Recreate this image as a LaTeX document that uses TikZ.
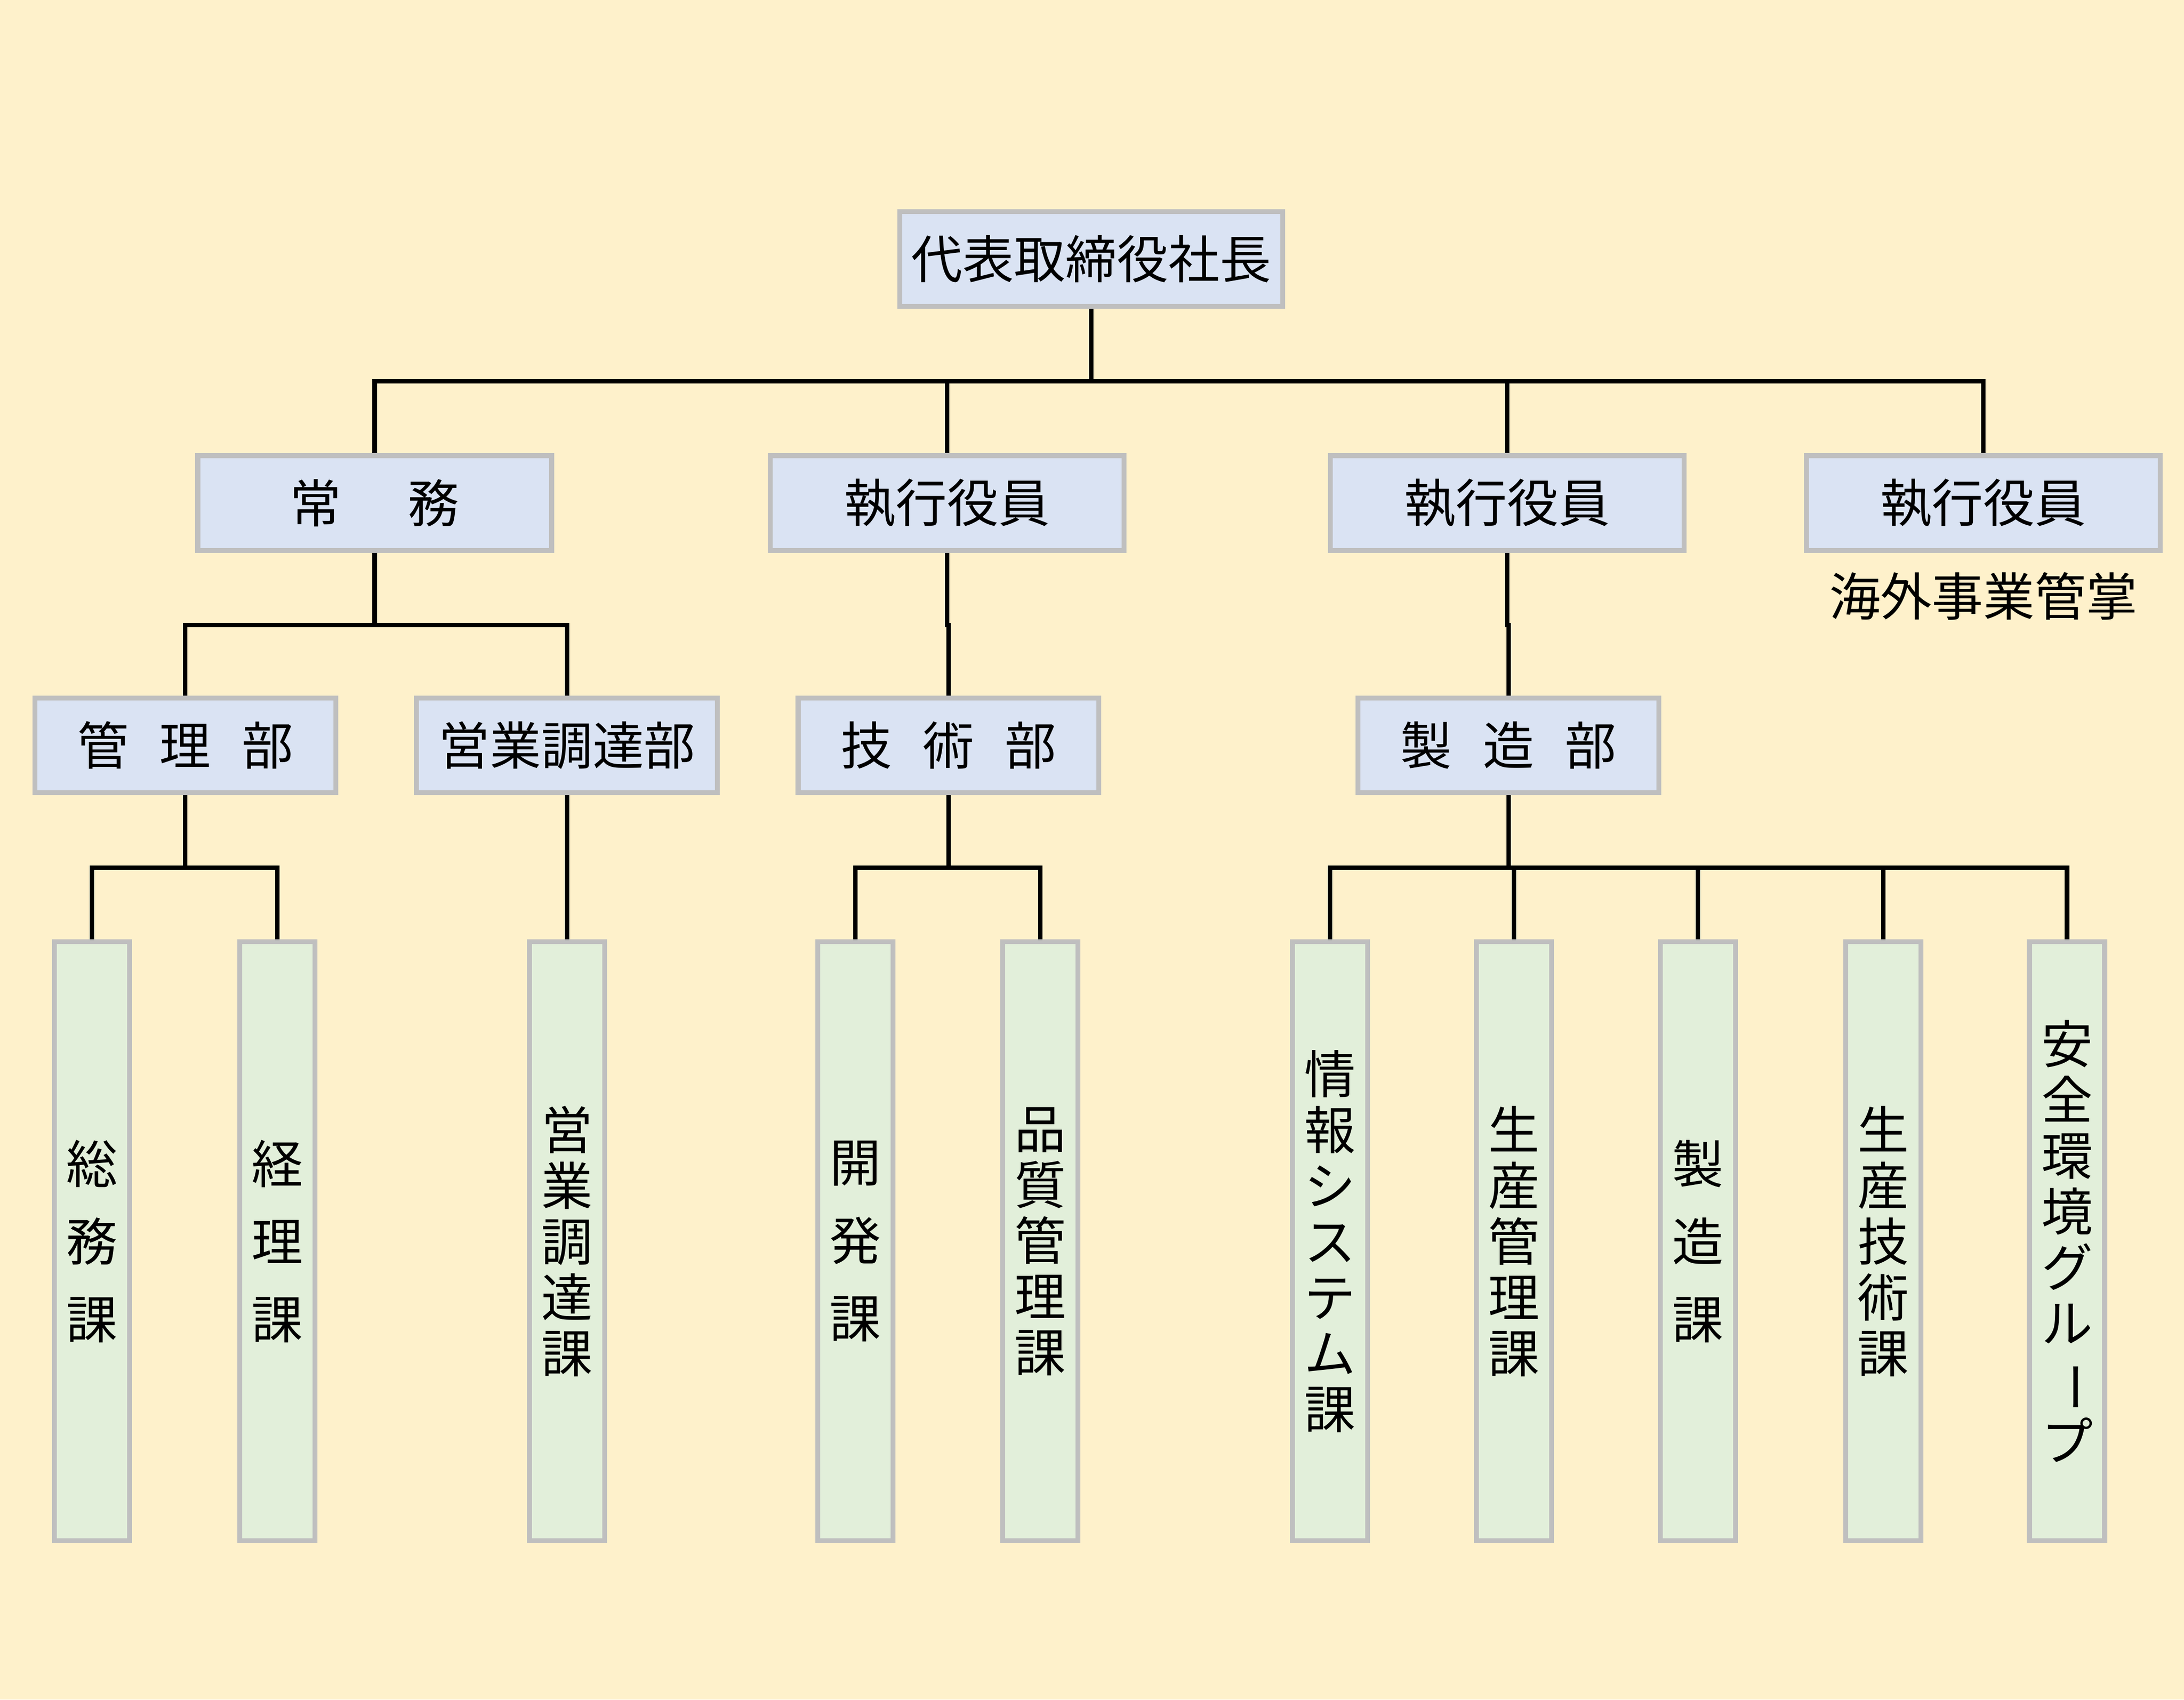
\documentclass[tikz,border=0pt]{standalone}
\usepackage{fontspec}
\setmainfont{Noto Sans CJK JP}
\usepackage{graphicx}
\definecolor{bgyellow}{HTML}{FEF1CB}
\definecolor{boxblue}{HTML}{DAE3F3}
\definecolor{boxgreen}{HTML}{E2EFDA}
\definecolor{boxline}{HTML}{BFBFBF}
\tikzset{
  hbox/.style={draw=boxline, line width=1pt, fill=boxblue, inner sep=0pt,
    font=\fontsize{10.5pt}{12pt}\selectfont},
  vbox/.style={draw=boxline, line width=1pt, fill=boxgreen, inner sep=0pt,
    minimum width=0.54cm, minimum height=4.3cm, align=center},
  vwide/.style={vbox, font=\fontsize{10.5pt}{15.9pt}\selectfont},
  vnarrow/.style={vbox, font=\fontsize{10.5pt}{11.4pt}\selectfont},
  link/.style={line width=0.9pt}
}
\begin{document}
\begin{tikzpicture}
\fill[bgyellow] (0,0) rectangle (15.68,-12.2);
\useasboundingbox (0,0) rectangle (15.68,-12.2);

% top
\node[hbox, minimum width=2.75cm, minimum height=0.68cm] (pres) at (7.835,-1.86) {代表取締役社長};

% second row
\node[hbox, minimum width=2.54cm, minimum height=0.68cm] (jomu) at (2.69,-3.61) {常\hspace{1.3em}務};
\node[hbox, minimum width=2.54cm, minimum height=0.68cm] (execA) at (6.80,-3.61) {執行役員};
\node[hbox, minimum width=2.54cm, minimum height=0.68cm] (execB) at (10.82,-3.61) {執行役員};
\node[hbox, minimum width=2.54cm, minimum height=0.68cm] (execC) at (14.24,-3.61) {執行役員};
\node[font=\fontsize{10.5pt}{12pt}\selectfont] (kaigai) at (14.24,-4.28) {海外事業管掌};

% third row
\node[hbox, minimum width=2.16cm, minimum height=0.68cm] (kanri) at (1.33,-5.35) {管\hspace{0.6em}理\hspace{0.6em}部};
\node[hbox, minimum width=2.16cm, minimum height=0.68cm] (eigyo) at (4.07,-5.35) {営業調達部};
\node[hbox, minimum width=2.16cm, minimum height=0.68cm] (gijutsu) at (6.81,-5.35) {技\hspace{0.6em}術\hspace{0.6em}部};
\node[hbox, minimum width=2.16cm, minimum height=0.68cm] (seizo) at (10.83,-5.35) {製\hspace{0.6em}造\hspace{0.6em}部};

% sections
\node[vwide] (somu) at (0.66,-8.91) {総\\務\\課};
\node[vwide] (keiri) at (1.99,-8.91) {経\\理\\課};
\node[vnarrow] (eigyoka) at (4.07,-8.91) {営\\業\\調\\達\\課};
\node[vwide] (kaihatsu) at (6.14,-8.91) {開\\発\\課};
\node[vnarrow] (hinshitsu) at (7.47,-8.91) {品\\質\\管\\理\\課};
\node[vnarrow] (joho) at (9.55,-8.91) {情\\報\\シ\\ス\\テ\\ム\\課};
\node[vnarrow] (seisan) at (10.87,-8.91) {生\\産\\管\\理\\課};
\node[vwide] (seizoka) at (12.19,-8.91) {製\\造\\課};
\node[vnarrow] (seigi) at (13.52,-8.91) {生\\産\\技\\術\\課};
\node[vnarrow] (anzen) at (14.84,-8.91) {安\\全\\環\\境\\グ\\ル\\\rotatebox[origin=c]{-90}{ー}\\プ};

% connectors
\foreach \p/\c in {pres/jomu, pres/execA, pres/execB, pres/execC,
                   jomu/kanri, jomu/eigyo, execA/gijutsu, execB/seizo,
                   kanri/somu, kanri/keiri, eigyo/eigyoka,
                   gijutsu/kaihatsu, gijutsu/hinshitsu,
                   seizo/joho, seizo/seisan, seizo/seizoka, seizo/seigi, seizo/anzen}
  \draw[link] (\p.south) -- ++(0,-0.52) -| (\c.north);
\end{tikzpicture}
\end{document}
